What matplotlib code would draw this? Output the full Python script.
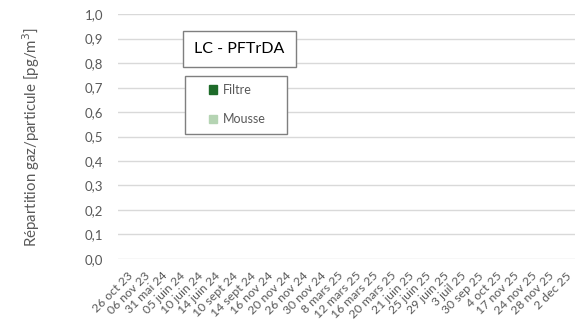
import numpy as np
import matplotlib.pyplot as plt
from matplotlib.patches import Patch, Rectangle

plt.rcParams["font.family"] = ["Lato", "DejaVu Sans"]

dates = ["26 oct 23", "06 nov 23", "31 mai 24", "05 juin 24", "10 juin 24",
         "14 juin 24", "10 sept 24", "14 sept 24", "16 nov 24", "20 nov 24",
         "26 nov 24", "30 nov 24", "8 mars 25", "12 mars 25", "16 mars 25",
         "20 mars 25", "21 juin 25", "25 juin 25", "29 juin 25", "3 juil 25",
         "30 sep 25", "4 oct 25", "17 nov 25", "24 nov 25", "28 nov 25",
         "2 dec 25"]
# no values reported for this compound -> empty chart
filtre = [0.0] * len(dates)
mousse = [0.0] * len(dates)

c_filtre = "#1E6B2A"
c_mousse = "#B5D4B3"
grey = "#595959"

fig = plt.figure(figsize=(5.75, 3.29), dpi=100)
ax = fig.add_axes([0.205, 0.2128, 0.795, 0.7446])

x = np.arange(len(dates))
ax.bar(x, filtre, width=0.6, color=c_filtre, linewidth=0)
ax.bar(x, mousse, width=0.6, bottom=filtre, color=c_mousse, linewidth=0)

ax.set_xlim(-0.5, len(dates) - 0.5)
ax.set_ylim(0, 1.0)
yt = np.arange(0, 1.01, 0.1)
ax.set_yticks(yt)
ax.set_yticklabels([f"{v:.1f}".replace(".", ",") for v in yt])
ax.set_xticks(x)
ax.set_xticklabels(dates, rotation=45, ha="right", va="top",
                   rotation_mode="anchor")
ax.tick_params(axis="both", length=0, colors=grey)
ax.tick_params(axis="y", pad=10.5, labelsize=9.5)
ax.tick_params(axis="x", pad=8, labelsize=8.8)

ax.grid(axis="y", color="#D9D9D9", linewidth=1)
ax.set_axisbelow(True)
for s in ax.spines.values():
    s.set_visible(False)

fig.text(0.054, 0.584, "Répartition gaz/particule [pg/m$^3$]", rotation=90,
         ha="center", va="center", fontsize=10.8, color=grey)

fig.text(0.416, 0.851, "LC - PFTrDA", ha="center", va="center", fontsize=11.5,
         color="black",
         bbox=dict(boxstyle="square,pad=0.7", fc="white", ec="#7F7F7F", lw=1))

# legend frame drawn separately so it can be wider than the entries
fig.add_artist(Rectangle((185 / 575, 1 - 134 / 329), 102 / 575, 58 / 329,
                         transform=fig.transFigure, fc="white",
                         ec="#7F7F7F", lw=1))
handles = [Patch(color=c_filtre, label="Filtre"),
           Patch(color=c_mousse, label="Mousse")]
leg = fig.legend(handles=handles, loc="upper left",
                 bbox_to_anchor=(0.3635, 0.745), fontsize=9, frameon=False,
                 labelspacing=1.4, handlelength=0.65, handleheight=0.65,
                 handletextpad=0.45, borderpad=0, borderaxespad=0)
for t in leg.get_texts():
    t.set_color(grey)

fig.savefig("out.png", dpi=100)
